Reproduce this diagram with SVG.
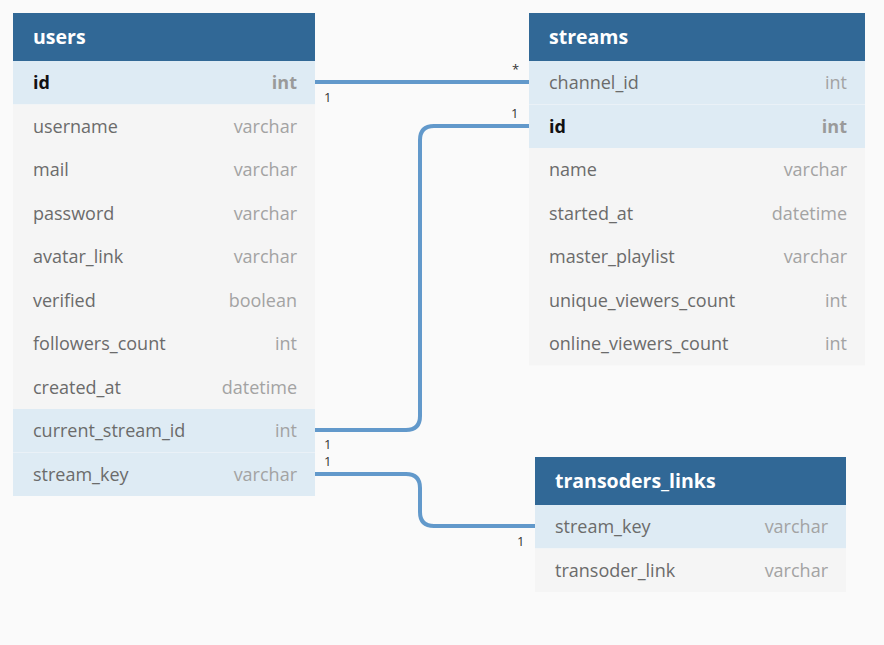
<svg xmlns="http://www.w3.org/2000/svg" width="884" height="645" viewBox="0 0 884 645">
<style>
.hdr{fill:#316896}
.row{fill:#f5f5f5}
.hl{fill:#deebf4}
.sep{stroke:#eaf1f7;stroke-width:1}
.title{font-family:"Open Sans","Noto Sans",sans-serif;font-size:19.5px;font-weight:bold;fill:#ffffff}
.fn{font-family:"Open Sans","Noto Sans",sans-serif;font-size:18px;fill:#6b6b6b}
.ft{font-family:"Open Sans","Noto Sans",sans-serif;font-size:18px;fill:#a3a3a3;text-anchor:end}
.pk{fill:#111111;font-weight:bold}
.pkt{font-weight:bold;fill:#9a9a9a}
.conn{fill:none;stroke:#6299cb;stroke-width:4}
.lbl{font-family:"Open Sans","Noto Sans",sans-serif;font-size:13px;fill:#333333}
</style>
<rect width="884" height="645" fill="#fafafa"/>
<g id="connectors">
<path class="conn" d="M315,82 H529"/>
<path class="conn" d="M315,430 H406 Q420,430 420,416 V140 Q420,126 434,126 H529"/>
<path class="conn" d="M315,474 H406 Q420,474 420,488 V512 Q420,526 434,526 H535"/>
<text class="lbl" x="324" y="102">1</text>
<text class="lbl" x="512" y="74">*</text>
<text class="lbl" x="511" y="118">1</text>
<text class="lbl" x="324" y="449">1</text>
<text class="lbl" x="324" y="466">1</text>
<text class="lbl" x="517" y="546">1</text>
</g>
<g id="users">
<rect class="hdr" x="13" y="13" width="302" height="48"/>
<text class="title" x="33" y="44">users</text>
<rect class="hl" x="13" y="61" width="302" height="43.5"/>
<rect class="row" x="13" y="104.5" width="302" height="304.5"/>
<rect class="hl" x="13" y="409" width="302" height="87"/>
<line class="sep" x1="13" y1="452.5" x2="315" y2="452.5"/>
<text class="fn pk" x="33" y="89">id</text><text class="ft pkt" x="297" y="89">int</text>
<text class="fn" x="33" y="133">username</text><text class="ft" x="297" y="133">varchar</text>
<text class="fn" x="33" y="176">mail</text><text class="ft" x="297" y="176">varchar</text>
<text class="fn" x="33" y="220">password</text><text class="ft" x="297" y="220">varchar</text>
<text class="fn" x="33" y="263">avatar_link</text><text class="ft" x="297" y="263">varchar</text>
<text class="fn" x="33" y="307">verified</text><text class="ft" x="297" y="307">boolean</text>
<text class="fn" x="33" y="350">followers_count</text><text class="ft" x="297" y="350">int</text>
<text class="fn" x="33" y="394">created_at</text><text class="ft" x="297" y="394">datetime</text>
<text class="fn" x="33" y="437">current_stream_id</text><text class="ft" x="297" y="437">int</text>
<text class="fn" x="33" y="481">stream_key</text><text class="ft" x="297" y="481">varchar</text>
</g>
<g id="streams">
<rect class="hdr" x="529" y="13" width="336" height="48"/>
<text class="title" x="549" y="44">streams</text>
<rect class="hl" x="529" y="61" width="336" height="87"/>
<line class="sep" x1="529" y1="104.5" x2="865" y2="104.5"/>
<rect class="row" x="529" y="148" width="336" height="217.5"/>
<text class="fn" x="549" y="89">channel_id</text><text class="ft" x="847" y="89">int</text>
<text class="fn pk" x="549" y="133">id</text><text class="ft pkt" x="847" y="133">int</text>
<text class="fn" x="549" y="176">name</text><text class="ft" x="847" y="176">varchar</text>
<text class="fn" x="549" y="220">started_at</text><text class="ft" x="847" y="220">datetime</text>
<text class="fn" x="549" y="263">master_playlist</text><text class="ft" x="847" y="263">varchar</text>
<text class="fn" x="549" y="307">unique_viewers_count</text><text class="ft" x="847" y="307">int</text>
<text class="fn" x="549" y="350">online_viewers_count</text><text class="ft" x="847" y="350">int</text>
</g>
<g id="transoders_links">
<rect class="hdr" x="535" y="457" width="311" height="48"/>
<text class="title" x="555" y="488">transoders_links</text>
<rect class="hl" x="535" y="505" width="311" height="43.5"/>
<rect class="row" x="535" y="548.5" width="311" height="43.5"/>
<text class="fn" x="555" y="533">stream_key</text><text class="ft" x="828" y="533">varchar</text>
<text class="fn" x="555" y="577">transoder_link</text><text class="ft" x="828" y="577">varchar</text>
</g>
</svg>
